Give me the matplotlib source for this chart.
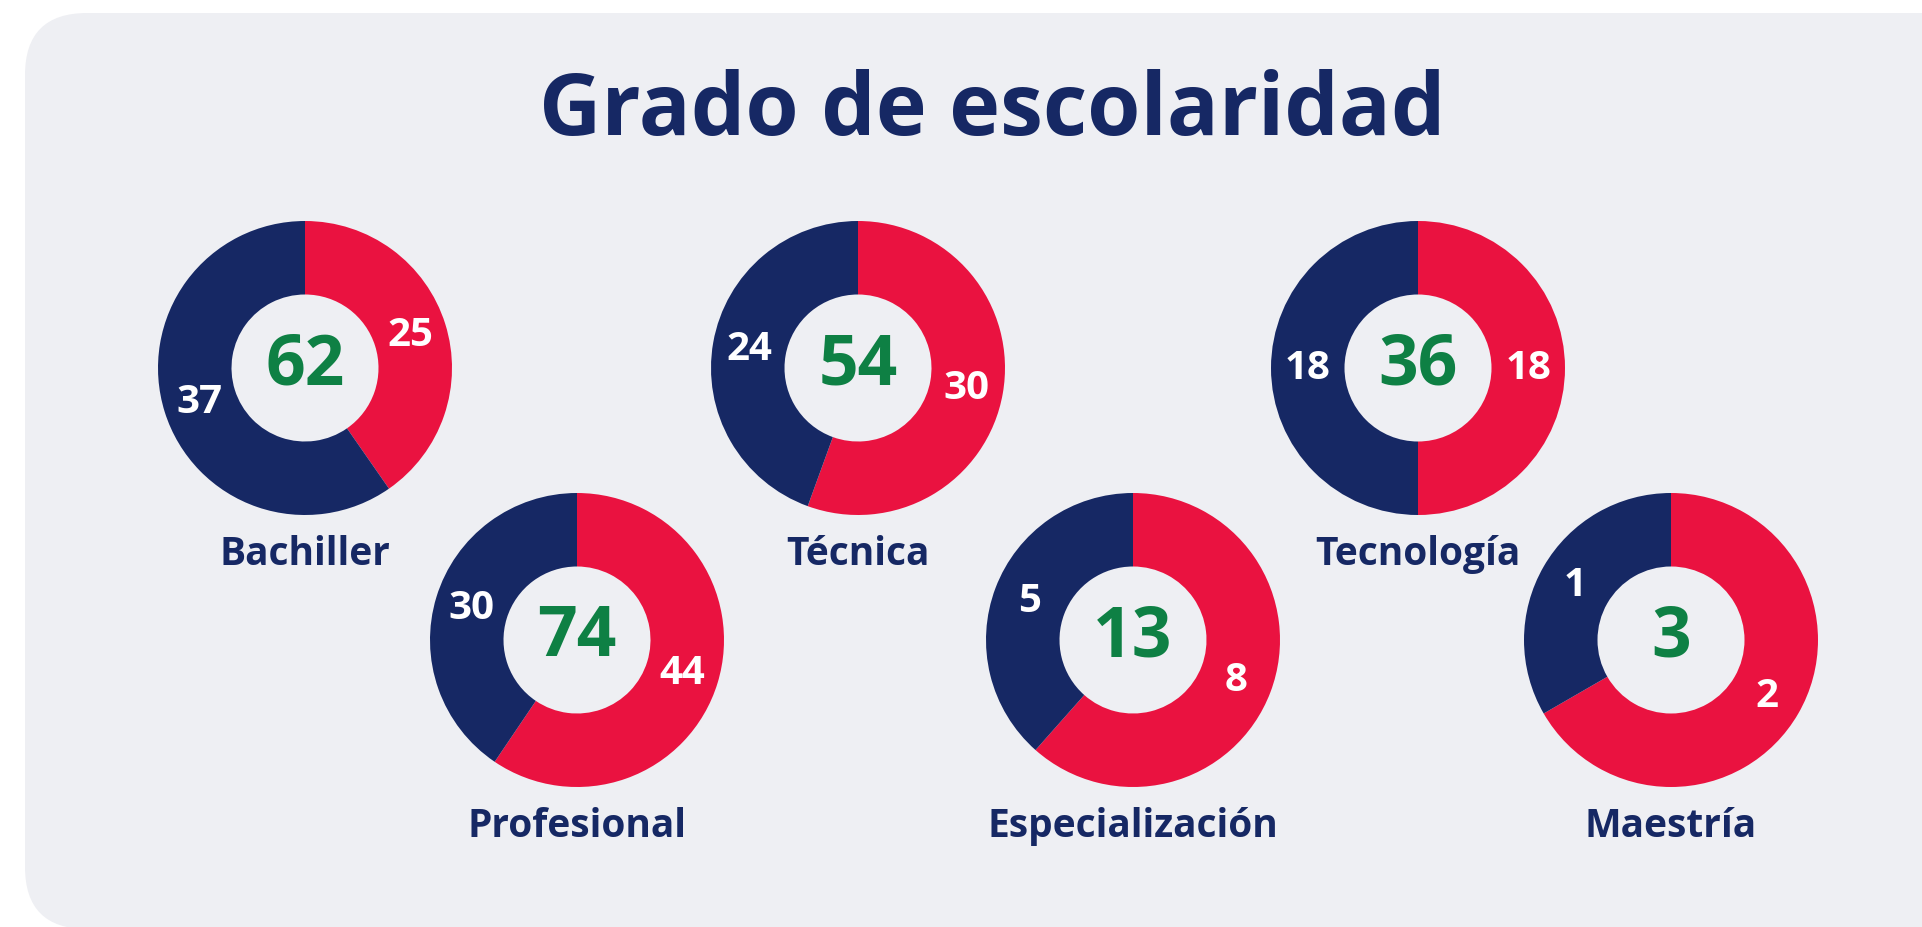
import matplotlib.pyplot as plt
from matplotlib.patches import FancyBboxPatch

W, H = 1922, 928

titulo = "Grado de escolaridad"
categorias = ["Bachiller", "Profesional", "Técnica", "Especialización", "Tecnología", "Maestría"]
rojo_vals = [25, 44, 30, 8, 18, 2]
azul_vals = [37, 30, 24, 5, 18, 1]

# centros de cada dona en pixeles (x, y desde arriba)
centros = [(305, 369), (577, 641), (858, 369), (1133, 641), (1418, 369), (1671, 641)]
R = 147

ROJO = "#EA1240"
AZUL = "#162864"
VERDE = "#0E8044"
FONDO = "#EEEFF3"
FUENTE = "Open Sans"

fig = plt.figure(figsize=(W / 100, H / 100), dpi=100)
fig.patch.set_facecolor("white")

# capa de fondo en pixeles
bg = fig.add_axes([0, 0, 1, 1], zorder=-5)
bg.set_xlim(0, W)
bg.set_ylim(H, 0)
bg.axis("off")
bg.add_patch(FancyBboxPatch((25, 14), W + 60, H + 2 - 14,
                            boxstyle="round,pad=0,rounding_size=62",
                            facecolor=FONDO, edgecolor="none"))
bg.text(992, 112, titulo, ha="center", va="center", fontsize=62,
        fontweight="bold", color=AZUL, family=FUENTE)

for cat, r, a, (cx, cy) in zip(categorias, rojo_vals, azul_vals, centros):
    ax = fig.add_axes([(cx - R) / W, 1 - (cy + R) / H, 2 * R / W, 2 * R / H])
    vals = [r, a]
    total = sum(vals)
    wedges, _, autotexts = ax.pie(
        vals, colors=[ROJO, AZUL], startangle=90, counterclock=False,
        radius=1, wedgeprops=dict(width=0.5, linewidth=0),
        autopct=lambda p, t=total: f"{round(p * t / 100):d}", pctdistance=0.75)
    for t in autotexts:
        t.set_color("white")
        t.set_fontsize(29)
        t.set_fontweight("bold")
        t.set_family(FUENTE)
    ax.text(0, 0.02, str(total), ha="center", va="center", fontsize=50,
            fontweight="bold", color=VERDE, family=FUENTE)
    ax.set_xlim(-1, 1)
    ax.set_ylim(-1, 1)
    ax.set_aspect("equal")
    ax.axis("off")
    bg.text(cx, cy + 186, cat, ha="center", va="center",
            fontsize=28, fontweight="bold", color=AZUL, family=FUENTE)

fig.savefig("out.png", dpi=100, facecolor=fig.get_facecolor())
